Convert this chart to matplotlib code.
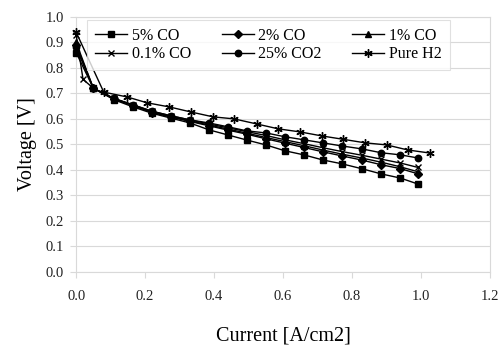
import matplotlib
matplotlib.use('Agg')
import matplotlib.pyplot as plt

plt.rcParams['font.family'] = ['Liberation Serif', 'DejaVu Serif']

# current density [A/cm2] for the CO / CO2 runs
x_co = [0.0, 0.05, 0.11, 0.165, 0.22, 0.275, 0.33, 0.385, 0.44, 0.495,
        0.55, 0.605, 0.66, 0.715, 0.77, 0.83, 0.885, 0.94, 0.99]
x_01 = [0.0, 0.02, 0.05, 0.11, 0.165, 0.22, 0.275, 0.33, 0.385, 0.44, 0.495,
        0.55, 0.605, 0.66, 0.715, 0.77, 0.83, 0.885, 0.94, 0.99]
x_h2 = [0.0, 0.08, 0.148, 0.206, 0.27, 0.333, 0.397, 0.458, 0.524, 0.586,
        0.649, 0.713, 0.774, 0.838, 0.9, 0.962, 1.026]

# cell voltage [V]
v_5co = [0.86, 0.72, 0.675, 0.647, 0.622, 0.603, 0.584, 0.557, 0.537, 0.517,
         0.498, 0.475, 0.459, 0.439, 0.424, 0.404, 0.384, 0.368, 0.345]
v_2co = [0.89, 0.72, 0.678, 0.652, 0.625, 0.607, 0.59, 0.573, 0.556, 0.54,
         0.522, 0.505, 0.488, 0.471, 0.455, 0.438, 0.42, 0.405, 0.385]
v_1co = [0.90, 0.72, 0.679, 0.653, 0.627, 0.609, 0.592, 0.576, 0.56, 0.544,
         0.527, 0.511, 0.495, 0.478, 0.462, 0.446, 0.43, 0.412, 0.393]
v_01co = [0.93, 0.755, 0.72, 0.68, 0.655, 0.63, 0.612, 0.596, 0.58, 0.565,
          0.55, 0.535, 0.518, 0.503, 0.487, 0.472, 0.457, 0.442, 0.427, 0.41]
v_co2 = [0.88, 0.72, 0.68, 0.655, 0.63, 0.612, 0.596, 0.584, 0.569, 0.553,
         0.545, 0.53, 0.518, 0.506, 0.494, 0.482, 0.467, 0.459, 0.447]
v_h2 = [0.94, 0.705, 0.686, 0.663, 0.647, 0.627, 0.608, 0.6, 0.58, 0.561,
        0.549, 0.533, 0.52, 0.506, 0.498, 0.478, 0.466]

series = [
    ('5% CO', x_co, v_5co, 's', 4.2),
    ('2% CO', x_co, v_2co, 'D', 3.6),
    ('1% CO', x_co, v_1co, '^', 4.6),
    ('0.1% CO', x_01, v_01co, 'x', 5),
    ('25% CO2', x_co, v_co2, 'o', 4.6),
    ('Pure H2', x_h2, v_h2, (6, 2, 0), 6),
]

grey = '#d9d9d9'

fig = plt.figure(figsize=(5.01, 3.45), dpi=100)
ax = fig.add_axes([0.152, 0.212, 0.826, 0.739])

lines = {}
for name, xs, ys, m, ms in series:
    ln, = ax.plot(xs, ys, color='black', lw=1.0, marker=m, markersize=ms,
                  markerfacecolor='black', markeredgecolor='black',
                  markeredgewidth=1.0, label=name, clip_on=False, zorder=3)
    lines[name] = ln

ax.set_xlim(0.0, 1.2)
ax.set_ylim(0.0, 1.0)
ax.set_xticks([0.0, 0.2, 0.4, 0.6, 0.8, 1.0, 1.2])
ax.set_yticks([i / 10 for i in range(11)])
ax.xaxis.set_major_formatter(matplotlib.ticker.FormatStrFormatter('%.1f'))
ax.yaxis.set_major_formatter(matplotlib.ticker.FormatStrFormatter('%.1f'))
ax.grid(axis='y', color=grey, lw=0.8)
ax.set_axisbelow(True)
for s in ax.spines.values():
    s.set_color(grey)
    s.set_linewidth(0.8)
ax.tick_params(colors=grey, labelcolor='#222222', labelsize=10.5, length=4,
               width=0.8)
ax.tick_params(axis='x', pad=9)
ax.tick_params(axis='y', pad=5)

ax.set_xlabel('Current [A/cm2]', fontsize=14.5, labelpad=17)
ax.set_ylabel('Voltage [V]', fontsize=14.5, labelpad=6)

order = ['5% CO', '0.1% CO', '2% CO', '25% CO2', '1% CO', 'Pure H2']
leg = ax.legend([lines[n] for n in order], order, ncol=3,
                loc='upper left', bbox_to_anchor=(0.027, 0.988),
                borderaxespad=0, fontsize=11.5, frameon=True, fancybox=False,
                handlelength=2.0, handletextpad=0.3, labelspacing=0.15,
                columnspacing=1.9, borderpad=0.5)
leg.get_frame().set_edgecolor(grey)
leg.get_frame().set_linewidth(0.8)

fig.savefig('out.png', dpi=100)
